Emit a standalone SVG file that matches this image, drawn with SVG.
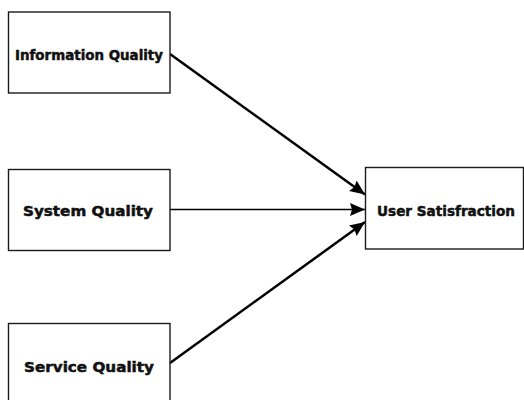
<svg xmlns="http://www.w3.org/2000/svg" width="524" height="400" viewBox="0 0 524 400">
<style>
.box{fill:#fff;stroke:#1a1a1a;stroke-width:1.4}
.lbl{font-family:"DejaVu Sans","Liberation Sans",sans-serif;font-weight:bold;font-size:14px;fill:#111;stroke:#111;stroke-width:0.5;text-anchor:middle}
.c{fill:none;stroke:#000}
</style>
<defs>
<marker id="ah" markerUnits="userSpaceOnUse" markerWidth="15" markerHeight="14" refX="15" refY="7" orient="auto" viewBox="0 0 15 14">
<path d="M0,0.5 L15,7 L0,13.5 L2,7 Z" fill="#000"/>
</marker>
</defs>
<rect width="524" height="400" fill="#fff"/>
<g id="connectors">
<line class="c" x1="170" y1="54" x2="365" y2="194.5" stroke-width="2.5" marker-end="url(#ah)"/>
<line class="c" x1="170" y1="209.5" x2="365" y2="209.5" stroke-width="1.5" marker-end="url(#ah)"/>
<line class="c" x1="170" y1="363" x2="365" y2="222" stroke-width="2.5" marker-end="url(#ah)"/>
</g>
<g id="information-quality">
<rect class="box" x="8.5" y="12" width="161.5" height="81"/>
<text class="lbl" x="89" y="60" textLength="148" lengthAdjust="spacingAndGlyphs">Information Quality</text>
</g>
<g id="system-quality">
<rect class="box" x="8.5" y="169.5" width="161.5" height="81"/>
<text class="lbl" x="88" y="215.5" textLength="130" lengthAdjust="spacingAndGlyphs">System Quality</text>
</g>
<g id="service-quality">
<rect class="box" x="8.5" y="323.5" width="161.5" height="82"/>
<text class="lbl" x="89" y="371.5" textLength="130" lengthAdjust="spacingAndGlyphs">Service Quality</text>
</g>
<g id="user-satisfaction">
<rect class="box" x="365.5" y="167.5" width="158" height="81.5"/>
<text class="lbl" x="446" y="215.5" textLength="138" lengthAdjust="spacingAndGlyphs">User Satisfraction</text>
</g>
</svg>
